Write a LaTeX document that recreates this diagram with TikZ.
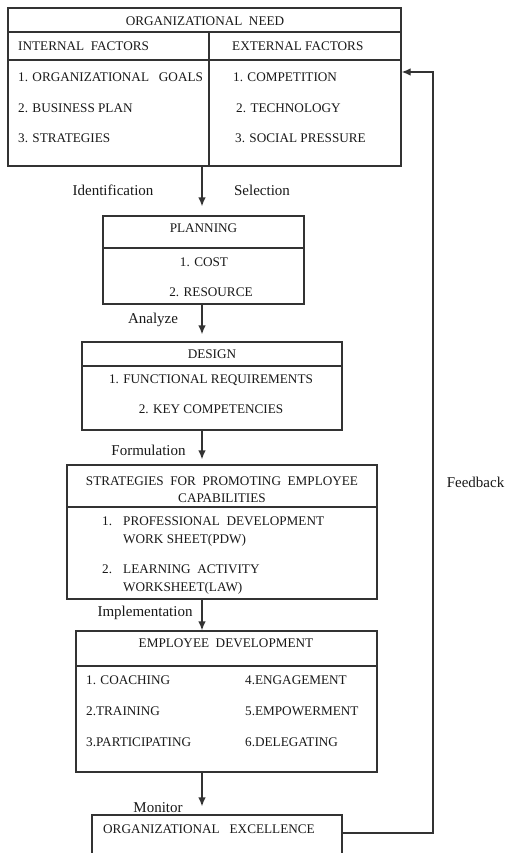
\documentclass[tikz,border=0pt]{standalone}
\usepackage{fontspec}
\setmainfont{Liberation Serif}
\usetikzlibrary{arrows.meta}
\begin{document}
\begin{tikzpicture}[x=1pt,y=-1pt,
  box/.style={draw=black!80,line width=1.3pt,inner sep=0pt},
  txt/.style={font=\fontsize{13.2}{15}\selectfont,inner sep=0pt,text=black!90},
  lbl/.style={font=\fontsize{15}{18}\selectfont,inner sep=0pt,text=black!90},
  flow/.style={line width=1.3pt,draw=black!80,-{Latex[length=9pt,width=7.5pt]}},
  fb/.style={line width=1.3pt,draw=black!80},
  sep/.style={line width=1.3pt,draw=black!80}]
\useasboundingbox (0,0) rectangle (506,853);
\clip (0,0) rectangle (506,853);
\fill[white] (0,0) rectangle (506,853);
% top box
\node[box,minimum width=393pt,minimum height=158pt] (need) at (204.5,87) {};
\draw[sep] (8,32) -- (401,32);
\draw[sep] (8,60) -- (401,60);
\draw[sep] (209,32) -- (209,166);
\node[txt] (t0) at (205,21) {ORGANIZATIONAL\ \ NEED};
\node[txt,anchor=west] (t1) at (18,46) {INTERNAL\ \ FACTORS};
\node[txt,anchor=west] (t2) at (232,46) {EXTERNAL FACTORS};
\node[txt,anchor=west] (t3) at (18,77) {1. ORGANIZATIONAL\ \ \ GOALS};
\node[txt,anchor=west] (t4) at (18,108) {2. BUSINESS PLAN};
\node[txt,anchor=west] (t5) at (18,138) {3. STRATEGIES};
\node[txt,anchor=west] (t6) at (233,77) {1. COMPETITION};
\node[txt,anchor=west] (t7) at (236,108) {2. TECHNOLOGY};
\node[txt,anchor=west] (t8) at (235,138) {3. SOCIAL PRESSURE};
% planning
\node[box,minimum width=201pt,minimum height=88pt] (plan) at (203.5,260) {};
\draw[sep] (103,248) -- (304,248);
\node[txt] (p0) at (203.5,228) {PLANNING};
\node[txt] (p1) at (204,262) {1. COST};
\node[txt] (p2) at (211,292) {2. RESOURCE};
% design
\node[box,minimum width=260pt,minimum height=88pt] (design) at (212,386) {};
\draw[sep] (82,366) -- (342,366);
\node[txt] (d0) at (212,354) {DESIGN};
\node[txt] (d1) at (211,380) {1. FUNCTIONAL REQUIREMENTS};
\node[txt] (d2) at (211,409) {2. KEY COMPETENCIES};
% strategies
\node[box,minimum width=310pt,minimum height=134pt] (strat) at (222,532) {};
\draw[sep] (67,507) -- (377,507);
\node[txt] (s0) at (222,481) {STRATEGIES\ \ FOR\ \ PROMOTING\ \ EMPLOYEE};
\node[txt] (s1) at (222,498) {CAPABILITIES};
\node[txt,anchor=west] (s2) at (102,521) {1.};
\node[txt,anchor=west] (s3) at (123,521) {PROFESSIONAL\ \ DEVELOPMENT};
\node[txt,anchor=west] (s4) at (123,540) {WORK SHEET(PDW)};
\node[txt,anchor=west] (s5) at (102,569) {2.};
\node[txt,anchor=west] (s6) at (123,569) {LEARNING\ \ ACTIVITY};
\node[txt,anchor=west] (s7) at (123,588) {WORKSHEET(LAW)};
% employee development
\node[box,minimum width=301pt,minimum height=141pt] (emp) at (226.5,701.5) {};
\draw[sep] (76,666) -- (377,666);
\node[txt] (e0) at (226,643) {EMPLOYEE\ \ DEVELOPMENT};
\node[txt,anchor=west] (e1) at (86,680) {1. COACHING};
\node[txt,anchor=west] (e2) at (86,711) {2.TRAINING};
\node[txt,anchor=west] (e3) at (86,742) {3.PARTICIPATING};
\node[txt,anchor=west] (e4) at (245,680) {4.ENGAGEMENT};
\node[txt,anchor=west] (e5) at (245,711) {5.EMPOWERMENT};
\node[txt,anchor=west] (e6) at (245,742) {6.DELEGATING};
% organizational excellence (cut off at bottom)
\node[box,minimum width=250pt,minimum height=60pt] (exc) at (217,845) {};
\node[txt,anchor=west] (x0) at (103,829) {ORGANIZATIONAL\ \ \ EXCELLENCE};
% labels
\node[lbl] (l1) at (113,190) {Identification};
\node[lbl] (l2) at (262,190) {Selection};
\node[lbl] (l3) at (153,320) {Analyze};
\node[lbl] (l4) at (148.5,450) {Formulation};
\node[lbl] (l5) at (145,613) {Implementation};
\node[lbl] (l6) at (158,808) {Monitor};
\node[lbl] (l7) at (475.5,482) {Feedback};
% flow arrows
\draw[flow,shorten >=9pt] (need.south -| 202,0) -- (plan.north -| 202,0);
\draw[flow,shorten >=7pt] (plan.south -| 202,0) -- (design.north -| 202,0);
\draw[flow,shorten >=5pt] (design.south -| 202,0) -- (strat.north -| 202,0);
\draw[flow] (strat.south -| 202,0) -- (emp.north -| 202,0);
\draw[flow,shorten >=8pt] (emp.south -| 202,0) -- (exc.north -| 202,0);
% feedback
\coordinate (c1) at (433,833);
\coordinate (c2) at (433,72);
\draw[fb,-{Latex[length=9pt,width=7.5pt]}] (exc.east |- c1) -- (c1) -- (c2) -- (need.east |- c2);
\end{tikzpicture}
\end{document}
